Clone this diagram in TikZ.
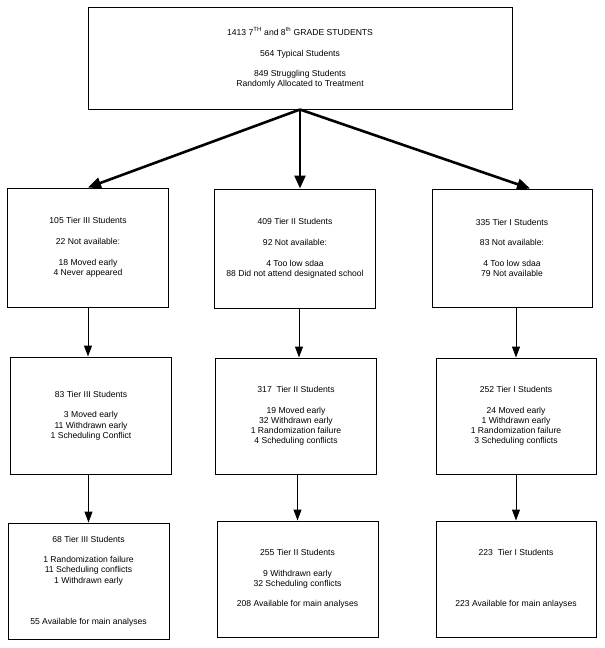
\documentclass[tikz,border=0pt]{standalone}
\usepackage{fontspec}
\setmainfont{Liberation Sans}
\usepackage{tikz}
\usetikzlibrary{arrows.meta}

\begin{document}
\begin{tikzpicture}[x=1pt, y=-1pt,
        box/.style={draw, line width=1pt, align=center, inner sep=0pt,
            minimum width=161pt, minimum height=117pt,
            font=\fontsize{8.6}{10.3}\selectfont},
        thinarrow/.style={line width=1pt, -{Triangle[length=11pt, width=8pt]}},
        thickarrow/.style={line width=2.6pt, -{Triangle[length=13pt, width=11pt]}}]
    \useasboundingbox (0, 0) rectangle (605, 648);

    % top box
    \node [box, minimum width=424pt, minimum height=102pt] (all) at (300, 58)
        {1413 7\textsuperscript{TH} and 8\textsuperscript{th} GRADE STUDENTS\\[10.3pt]
         564 Typical Students\\[10.3pt]
         849 Struggling Students\\ Randomly Allocated to Treatment};

    % first row
    \node [box, minimum height=119pt] (t3a) at (88, 247.5)
        {105 Tier III Students\\[10.3pt] 22 Not available:\\[10.3pt]
         18 Moved early\\ 4 Never appeared};
    \node [box, minimum height=119pt] (t2a) at (295, 248.5)
        {409 Tier II Students\\[10.3pt] 92 Not available:\\[10.3pt]
         4 Too low sdaa\\ 88 Did not attend designated school};
    \node [box, minimum width=160pt, minimum height=118pt] (t1a) at (512, 248)
        {335 Tier I Students\\[10.3pt] 83 Not available:\\[10.3pt]
         4 Too low sdaa\\ 79 Not available};

    % second row
    \node [box] (t3b) at (91, 415.5)
        {83 Tier III Students\\[10.3pt] 3 Moved early\\ 11 Withdrawn early\\
         1 Scheduling Conflict};
    \node [box, minimum height=116pt] (t2b) at (296, 416)
        {317\ \ Tier II Students\\[10.3pt] 19 Moved early\\ 32 Withdrawn early\\
         1 Randomization failure\\ 4 Scheduling conflicts};
    \node [box, minimum width=160pt, minimum height=116pt] (t1b) at (516, 416)
        {252 Tier I Students\\[10.3pt] 24 Moved early\\ 1 Withdrawn early\\
         1 Randomization failure\\ 3 Scheduling conflicts};

    % third row
    \node [box, minimum height=116pt] (t3c) at (88.5, 581)
        {68 Tier III Students\\[10.3pt] 1 Randomization failure\\
         11 Scheduling conflicts\\ 1 Withdrawn early\\[30.9pt]
         55 Available for main analyses};
    \node [box, minimum height=116pt] (t2c) at (297.5, 579)
        {255 Tier II Students\\[10.3pt] 9 Withdrawn early\\
         32 Scheduling conflicts\\[10.3pt] 208 Available for main analyses};
    \node [box, minimum width=160pt, minimum height=116pt] (t1c) at (516, 579)
        {223\ \ Tier I Students\\[41.2pt] 223 Available for main anlayses};

    % allocation arrows
    \draw [thickarrow] (all.south) -- (t3a.north);
    \draw [thickarrow] (all.south) -- (all.south |- t2a.north);
    \draw [thickarrow] (all.south) -- ([xshift=18pt]t1a.north);

    % down the columns
    \draw [thinarrow] (t3a.south) -- (t3a.south |- t3b.north);
    \draw [thinarrow] (t3b.south -| t3c.north) -- (t3c.north);
    \draw [thinarrow] ([xshift=4pt]t2a.south) -- ([xshift=4pt]t2a.south |- t2b.north);
    \draw [thinarrow] (t2b.south -| t2c.north) -- (t2c.north);
    \draw [thinarrow] (t1b.north |- t1a.south) -- (t1b.north);
    \draw [thinarrow] (t1c.north |- t1b.south) -- (t1c.north);
\end{tikzpicture}
\end{document}
